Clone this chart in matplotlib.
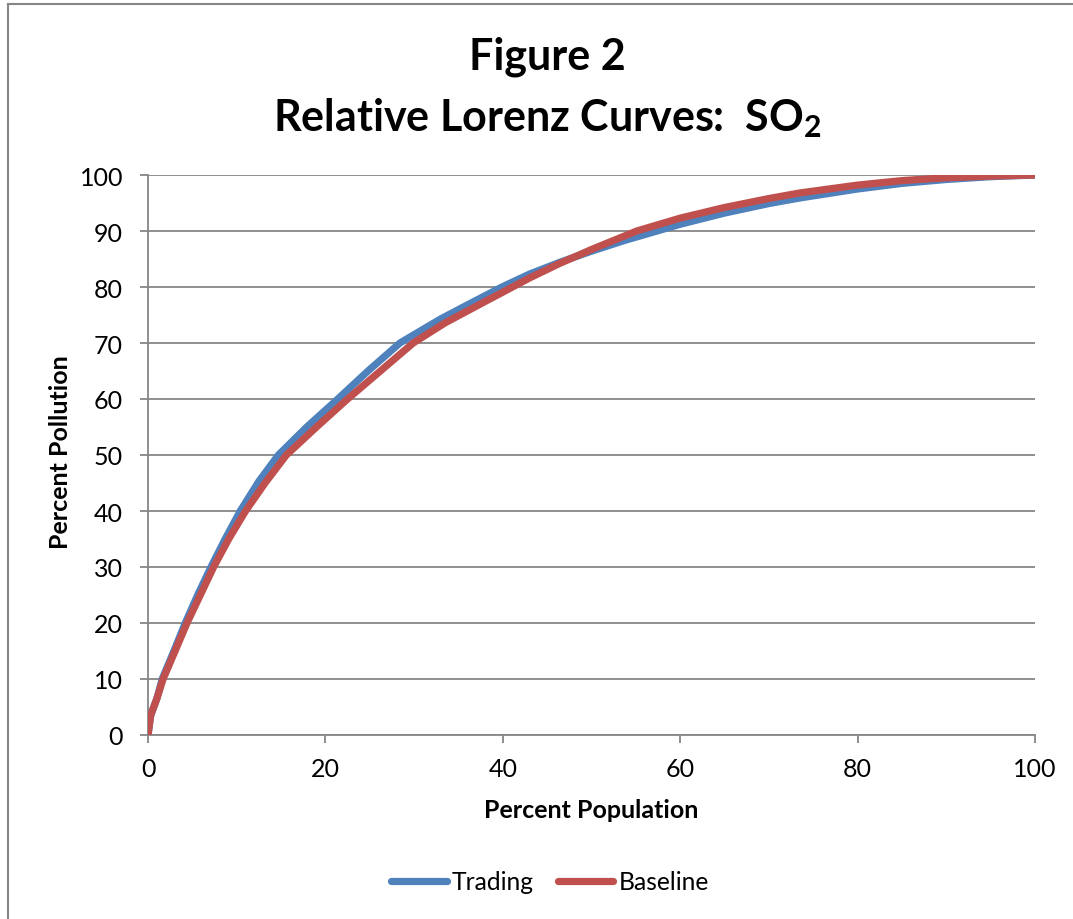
import matplotlib
matplotlib.use("Agg")
import matplotlib.pyplot as plt
from matplotlib.lines import Line2D

plt.rcParams['font.family'] = ['Lato', 'DejaVu Sans']
plt.rcParams['mathtext.fontset'] = 'custom'
plt.rcParams['mathtext.rm'] = 'Lato'
plt.rcParams['mathtext.bf'] = 'Lato:bold'

# Data
trading_x = [0, 0.3, 1, 1.6, 3, 4.2, 5.6, 7.1, 8.7, 10.4, 12.5, 14.7, 17.9, 21.4, 24.8,
             28.4, 33, 36, 39.9, 43, 46.4, 50, 53.7, 57.4, 60, 65, 70, 73.5, 80, 85,
             90, 95, 100]
trading_y = [0, 3.5, 6.5, 10, 15.3, 20, 25, 30, 35, 40, 45.3, 50, 55, 60, 65,
             70, 74.3, 76.8, 80, 82.3, 84.4, 86.4, 88.3, 90, 91.2, 93.2, 94.9, 95.9, 97.5, 98.5,
             99.2, 99.7, 100]
baseline_x = [0, 0.3, 1, 1.7, 3, 4.4, 5.9, 7.4, 9.1, 11.0, 13.2, 15.6, 19, 22.5, 26.2,
              29.9, 33.5, 37.4, 40.5, 43, 46.4, 50, 55.1, 60, 65, 70, 73.5, 80, 85,
              90, 95, 100]
baseline_y = [0, 3.5, 6.5, 10, 14.8, 20, 25, 30, 35, 40, 45, 50, 55, 60, 65,
              70, 73.6, 76.9, 79.5, 81.6, 84.2, 86.7, 90, 92.3, 94.2, 95.8, 96.8, 98.2, 99.0,
              99.5, 99.8, 100]

x_ticks = [0, 20, 40, 60, 80, 100]
y_ticks = [0, 10, 20, 30, 40, 50, 60, 70, 80, 90, 100]

W, H = 1073, 920
fig = plt.figure(figsize=(W / 100, H / 100), dpi=100)
ax = fig.add_axes([148 / W, (H - 736) / H, (1035 - 148) / W, (736 - 176) / H])

gray = '#868686'
ax.plot(trading_x, trading_y, color='#4F81BD', lw=5.2, solid_capstyle='round',
        solid_joinstyle='round', label='Trading', zorder=3)
ax.plot(baseline_x, baseline_y, color='#C0504D', lw=5.2, solid_capstyle='round',
        solid_joinstyle='round', label='Baseline', zorder=4)

ax.set_xlim(0, 100)
ax.set_ylim(0, 100)
ax.set_xticks(x_ticks)
ax.set_yticks(y_ticks)
ax.yaxis.grid(True, color=gray, lw=1.3)
ax.set_axisbelow(True)
for s in ['top', 'right']:
    ax.spines[s].set_visible(False)
for s in ['left', 'bottom']:
    ax.spines[s].set_color(gray)
    ax.spines[s].set_linewidth(1.3)
ax.tick_params(axis='both', direction='out', length=6, width=1.3, color=gray,
               labelsize=18)
ax.tick_params(axis='x', pad=10)
ax.tick_params(axis='y', pad=12)

fig.text(591 / W, 1 - 811 / H, 'Percent Population', ha='center', va='center',
         fontsize=18, fontweight='bold')
fig.text(60 / W, 1 - 452 / H, 'Percent Pollution', ha='center', va='center',
         rotation=90, fontsize=18, fontweight='bold')

fig.text(547 / W, 1 - 57 / H, 'Figure 2', ha='center', va='center',
         fontsize=31, fontweight='bold')
fig.text(547 / W, 1 - 118 / H, r'Relative Lorenz Curves:  SO$_\mathbf{2}$', ha='center',
         va='center', fontsize=31, fontweight='bold')

leg = fig.legend(loc='center', bbox_to_anchor=(550 / W, 1 - 883 / H), ncol=2, frameon=False,
                 fontsize=17.7, handlelength=2.25, handletextpad=0.2, columnspacing=1.0)

fig.add_artist(Line2D([8 / W, 8 / W], [0, 1 - 5 / H], color=gray, lw=1.5,
                      transform=fig.transFigure))
fig.add_artist(Line2D([8 / W, 1], [1 - 5 / H, 1 - 5 / H], color=gray, lw=1.5,
                      transform=fig.transFigure))

fig.savefig('out.png', dpi=100)
